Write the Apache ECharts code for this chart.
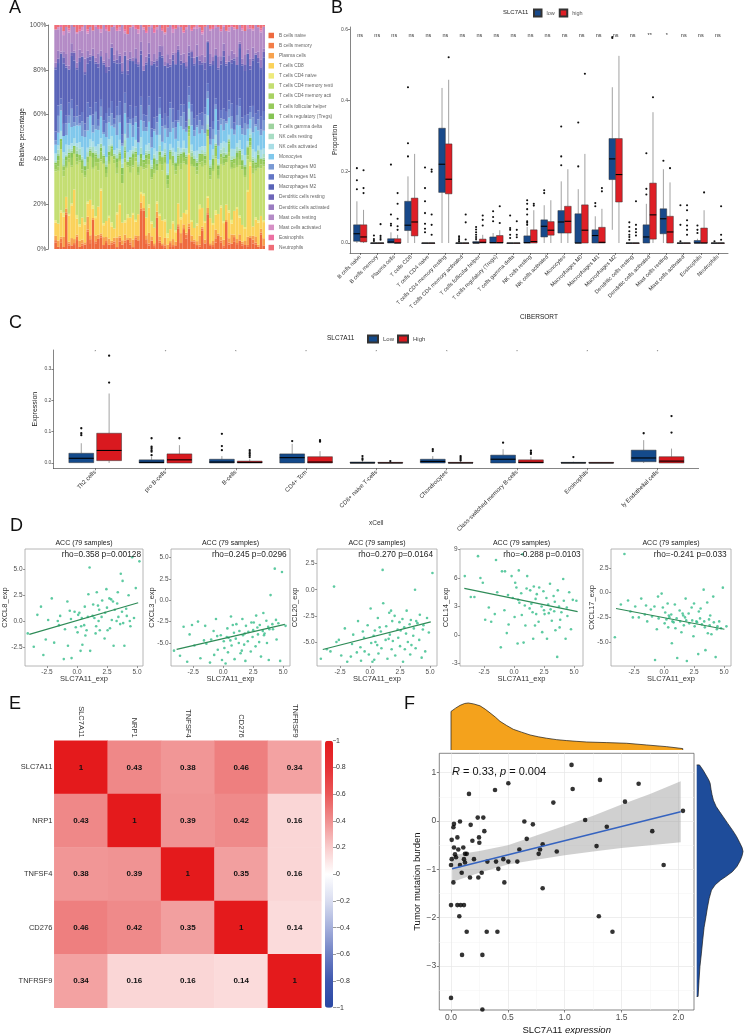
<!DOCTYPE html>
<html><head><meta charset="utf-8">
<script src="https://cdn.jsdelivr.net/npm/echarts@6/dist/echarts.min.js"></script>
<style>html,body{margin:0;padding:0;background:#fff}#c{width:744px;height:1034px}</style>
</head><body><div id="c"></div>
<script>
// ---------------- Panel A: CIBERSORT fractions (79 samples, relative units) ----------------
const aTypes = ['B cells naive','B cells memory','Plasma cells','T cells CD8','T cells CD4 naive','T cells CD4 memory resting','T cells CD4 memory activated','T cells follicular helper','T cells regulatory (Tregs)','T cells gamma delta','NK cells resting','NK cells activated','Monocytes','Macrophages M0','Macrophages M1','Macrophages M2','Dendritic cells resting','Dendritic cells activated','Mast cells resting','Mast cells activated','Eosinophils','Neutrophils'];
const aBn = [3,1,3,1,18,2,2,2,5,1, 2,2,8,3,16,3,5,6,2,3, 2,2,3,1,4,2,3,5,2,1, 5,4,18,16,3,2,4,1,15,3, 2,1,0,1,1,2,10,3,10,5, 12,4,3,2,1,10,3,20,2,1, 3,7,3,1,14,2,3,3,2,4, 2,2,1,6,3,2,1,8,2];
const aBm = [1,0,2,0,1,1,0,1,2,0, 1,0,1,2,0,1,0,1,0,1, 0,1,1,0,2,0,1,0,1,0, 1,0,1,0,2,1,0,1,0,1, 0,1,0,2,1,0,1,0,1,2, 1,0,1,0,1,1,0,1,0,1, 2,0,1,1,0,1,0,2,1,0, 1,0,1,0,2,1,0,1,0];
const aPl = [2,3,1,5,2,1,4,2,1,3, 2,1,6,2,1,3,2,1,4,2, 3,1,2,5,1,2,3,1,2,4, 1,2,3,1,2,6,2,1,3,2, 1,4,2,1,3,2,1,5,2,1, 2,3,1,2,4,1,2,3,1,2, 4,1,2,3,1,2,5,1,2,3, 1,2,4,1,2,3,1,2,4];
const aCD8 = [6,8,12,10,6,14,18,25,9,7, 12,8,6,18,5,9,14,22,6,8, 10,7,5,12,16,8,6,11,9,13, 7,10,4,5,9,14,6,8,4,10, 12,9,3,6,8,5,10,7,6,9, 40,7,6,8,12,10,9,6,13,8, 7,10,14,9,8,12,6,10,15,8, 9,6,22,38,5,8,10,7,9];
const aCD4n = [1,0,1,2,0,1,1,0,2,1, 0,1,1,0,2,1,0,1,1,0, 1,2,0,1,1,0,1,2,0,1, 1,0,1,1,0,2,1,0,1,1, 0,1,2,0,1,1,0,1,0,2, 1,1,0,1,2,0,1,1,0,1, 2,0,1,1,0,1,2,0,1,1, 0,1,1,2,0,1,1,0,1];
const aCD4mr = [22,25,30,18,15,28,20,18,28,30, 24,20,15,22,20,26,18,14,30,22, 25,32,35,20,22,18,28,26,20,24, 30,18,12,10,25,22,20,28,15,24, 26,30,20,35,28,30,18,24,26,22, 10,28,32,25,18,22,30,35,20,26, 24,18,20,30,22,25,28,18,20,24, 30,25,15,8,28,22,24,26,30];
const aCD4ma = [1,2,0,3,1,2,1,0,2,1, 2,1,3,0,1,2,4,1,0,2, 1,0,2,3,1,0,2,1,3,1, 2,1,0,1,2,3,1,2,0,1, 3,1,2,0,1,2,1,3,1,0, 2,1,0,2,1,3,1,0,2,1, 1,2,3,1,0,2,1,2,1,3, 0,1,2,1,3,1,0,2,1];
const aTfh = [2,3,4,2,3,2,4,3,2,3, 4,2,3,2,5,3,2,4,3,2, 3,4,2,3,2,4,3,2,3,4, 2,3,4,2,3,2,4,3,2,3, 4,3,2,3,4,2,3,4,2,3, 2,4,3,2,3,4,2,3,3,2, 4,3,2,3,2,4,3,2,4,3, 2,3,4,2,3,2,4,3,2];
const aTreg = [1,2,1,0,2,1,3,1,2,0, 1,2,0,1,3,1,0,2,1,1, 2,1,0,2,1,3,1,0,1,2, 1,0,2,1,2,1,0,3,1,2, 0,1,2,1,0,2,1,1,3,1, 2,0,1,2,1,0,2,1,1,3, 1,2,0,1,2,1,1,0,2,1, 3,1,0,2,1,1,2,0,1];
const aTgd = [0,1,0,1,0,0,1,0,2,0, 1,0,0,1,0,1,0,2,0,1, 0,0,1,0,1,0,2,0,0,1, 0,1,0,0,1,0,1,0,2,0, 0,1,0,1,0,0,1,0,0,1, 0,2,0,1,0,0,1,0,1,0, 1,0,0,2,0,1,0,0,1,0, 0,1,0,0,1,0,2,0,1];
const aNKr = [1,2,0,3,1,2,1,0,2,3, 1,0,2,1,3,1,2,0,1,2, 3,1,0,2,1,2,3,1,0,1, 2,1,3,0,1,2,1,2,0,3, 1,2,1,0,2,1,3,1,2,0, 4,1,2,1,0,2,1,3,1,2, 0,1,2,3,1,0,2,1,2,1, 3,0,1,2,1,2,0,1,2];
const aNKa = [3,2,4,3,5,2,3,4,2,3, 5,3,2,4,3,2,5,3,4,2, 3,4,2,3,5,2,3,4,3,2, 4,3,5,2,3,4,2,3,4,5, 2,3,4,3,2,5,3,2,4,3, 6,3,2,4,3,2,3,5,2,3, 4,2,3,3,5,2,4,3,2,4, 3,5,2,3,4,3,2,4,3];
const aMono = [4,6,10,8,5,12,9,6,10,8, 6,10,8,12,5,9,7,11,6,10, 8,5,12,7,9,6,10,8,12,5, 9,6,8,10,7,12,6,9,8,10, 5,8,12,6,10,7,9,11,6,8, 4,10,8,12,6,9,7,10,8,5, 12,7,9,6,10,8,11,6,9,7, 8,10,6,5,9,12,7,8,10];
const aM0 = [2,8,3,0,6,4,10,2,5,1, 8,3,6,0,4,9,2,5,1,7, 3,6,2,10,4,1,5,8,2,6, 3,0,7,4,2,9,5,1,6,3, 8,2,4,12,3,6,1,5,9,2, 4,7,3,1,6,2,10,4,3,5, 2,8,3,6,1,4,7,2,5,9, 3,6,2,4,8,1,5,3,6];
const aM1 = [4,5,3,6,4,7,5,3,6,4, 5,3,7,4,6,5,3,4,6,5, 4,6,3,5,7,4,5,3,6,4, 5,7,4,3,6,5,4,6,3,5, 4,6,5,3,7,4,5,6,4,3, 5,4,6,5,3,7,4,5,6,4, 3,5,4,6,5,4,7,3,5,4, 6,4,5,3,6,5,4,7,5];
const aM2 = [28,20,22,30,25,18,24,28,20,26, 30,22,18,24,32,20,26,22,28,20, 18,26,30,22,20,28,18,24,20,30, 22,28,20,18,26,22,30,28,24,20, 32,26,22,18,24,30,28,20,22,26, 18,24,28,30,22,26,20,24,32,28, 20,26,22,28,24,18,22,26,20,24, 28,22,30,20,24,28,22,26,30];
const aDCr = [1,2,0,3,1,0,2,4,1,2, 0,1,3,2,0,1,2,0,1,3, 2,0,1,2,4,1,0,2,1,0, 3,1,2,0,1,2,0,1,3,2, 1,0,2,1,3,0,1,2,0,1, 2,3,1,0,2,1,4,0,1,2, 0,1,2,3,1,0,2,1,0,2, 1,3,0,2,1,0,2,1,3];
const aDCa = [2,4,1,3,6,2,5,1,3,4, 2,6,3,1,4,2,5,3,1,7, 4,2,3,5,1,4,2,6,3,2, 5,1,4,2,3,6,2,4,1,3, 5,2,4,3,1,6,2,3,5,2, 4,1,3,6,2,4,3,1,5,2, 3,6,2,4,1,3,5,2,4,1, 3,5,2,4,6,1,3,4,2];
const aMastR = [15,10,12,8,14,18,10,12,16,9, 12,15,8,14,10,16,12,9,18,11, 13,8,15,10,12,17,9,14,11,16, 10,13,8,15,12,9,16,11,14,10, 8,15,12,17,10,13,9,14,11,16, 12,10,15,8,13,11,16,9,12,14, 10,15,12,9,16,11,13,10,14,8, 15,12,10,16,9,13,11,15,12];
const aMastA = [0,1,0,2,0,1,0,0,1,0, 2,0,1,0,0,1,0,2,0,1, 0,0,1,0,2,0,1,0,0,1, 0,2,0,1,0,0,1,0,1,0, 0,1,0,0,2,0,1,0,0,1, 0,0,1,2,0,1,0,0,1,0, 1,0,0,1,0,2,0,1,0,0, 1,0,2,0,1,0,0,1,0];
const aEos = [0,0,1,0,0,1,0,0,0,1, 0,0,1,0,0,0,1,0,0,1, 0,0,0,1,0,0,1,0,0,0, 1,0,0,0,1,0,0,2,0,0, 1,0,0,0,1,0,0,0,1,0, 0,1,0,0,0,1,0,0,0,1, 0,0,1,0,0,0,1,0,0,0, 1,0,0,1,0,0,0,1,0];
const aNeu = [2,1,0,3,1,2,0,1,4,2, 1,0,2,1,3,0,1,2,0,1, 3,1,0,2,1,0,2,5,1,0, 1,2,0,1,3,1,0,2,1,0, 2,4,1,0,1,2,0,1,3,1, 0,2,1,0,1,3,1,0,2,1, 0,1,2,0,3,1,0,1,2,0, 1,3,0,1,2,0,1,2,1];
const aRows = [aBn,aBm,aPl,aCD8,aCD4n,aCD4mr,aCD4ma,aTfh,aTreg,aTgd,aNKr,aNKa,aMono,aM0,aM1,aM2,aDCr,aDCa,aMastR,aMastA,aEos,aNeu];
const aColors = ['#EE6A3F','#F37D48','#F7A24E','#FBD25A','#EEEA7C','#C4DE72','#A9D263','#97CA5B','#86C454','#9ED39F','#A8DDC4','#A9DEE6','#80C8EC','#7A9AD4','#6477C6','#5A64B8','#6E66B9','#9A7CC1','#B48BC6','#D68FC5','#EC70A2','#EF6D77'];

// ---------------- Panel B: CIBERSORT boxplots [min,q1,median,q3,max] ----------------
const bCats = ['B cells naive','B cells memory','Plasma cells','T cells CD8','T cells CD4 naive','T cells CD4 memory resting','T cells CD4 memory activated','T cells follicular helper','T cells regulatory (Tregs)','T cells gamma delta','NK cells resting','NK cells activated','Monocytes','Macrophages M0','Macrophages M1','Macrophages M2','Dendritic cells resting','Dendritic cells activated','Mast cells resting','Mast cells activated','Eosinophils','Neutrophils'];
const bLow = [[0,0.005,0.026,0.051,0.117],[0,0,0,0,0],[0,0,0.003,0.012,0.03],[0,0.035,0.05,0.117,0.187],[0,0,0,0,0],[0,0.142,0.221,0.322,0.435],[0,0,0,0,0.003],[0,0,0,0.004,0.01],[0,0,0.001,0.017,0.028],[0,0,0,0,0],[0,0,0.001,0.02,0.045],[0,0.017,0.047,0.065,0.106],[0,0.028,0.059,0.091,0.173],[0,0,0,0.082,0.151],[0,0,0.021,0.037,0.075],[0.037,0.178,0.236,0.293,0.437],[0,0,0,0,0],[0,0,0.017,0.051,0.11],[0,0.026,0.068,0.096,0.207],[0,0,0,0,0],[0,0,0,0.007,0.012],[0,0,0,0,0]];
const bHigh = [[0,0.003,0.017,0.051,0.093],[0,0,0,0,0],[0,0,0,0.012,0.023],[0,0.02,0.059,0.126,0.25],[0,0,0,0,0],[0,0.138,0.179,0.278,0.458],[0,0,0,0,0],[0,0,0.002,0.011,0.023],[0,0,0.001,0.021,0.036],[0,0,0,0,0],[0,0,0.004,0.037,0.092],[0,0.022,0.036,0.06,0.12],[0,0.028,0.061,0.103,0.207],[0,0,0.036,0.107,0.25],[0,0,0.002,0.044,0.096],[0,0.115,0.192,0.293,0.525],[0,0,0,0,0],[0,0.011,0.079,0.168,0.367],[0,0,0.031,0.075,0.17],[0,0,0,0,0],[0,0,0,0.042,0.092],[0,0,0,0,0]];
const bLowOut = [[0,0.21],[0,0.176],[0,0.151],[1,0.021],[1,0.011],[1,0.006],[2,0.22],[2,0.08],[2,0.054],[2,0.049],[3,0.437],[3,0.28],[3,0.243],[4,0.212],[4,0.154],[4,0.117],[4,0.084],[4,0.054],[4,0.04],[4,0.03],[6,0.019],[6,0.014],[6,0.009],[6,0.005],[7,0.045],[7,0.038],[7,0.03],[7,0.023],[7,0.017],[7,0.011],[8,0.089],[8,0.073],[8,0.061],[9,0.077],[9,0.042],[9,0.037],[9,0.023],[9,0.014],[10,0.12],[10,0.11],[10,0.095],[10,0.08],[10,0.061],[10,0.051],[10,0.057],[11,0.148],[11,0.14],[12,0.327],[12,0.243],[12,0.218],[13,0.338],[13,0.215],[14,0.112],[14,0.103],[15,0.575],[15,0.578],[16,0.058],[16,0.045],[16,0.033],[16,0.023],[16,0.017],[16,0.009],[17,0.252],[17,0.152],[17,0.136],[18,0.231],[19,0.106],[19,0.051],[19,0.005],[20,0.049],[20,0.037],[20,0.028],[21,0.005]];
const bHighOut = [[0,0.204],[0,0.154],[0,0.14],[1,0.053],[1,0.02],[1,0.014],[1,0.009],[2,0.14],[2,0.11],[2,0.068],[2,0.047],[2,0.037],[4,0.206],[4,0.2],[4,0.08],[4,0.051],[4,0.023],[5,0.521],[6,0.08],[6,0.058],[6,0.01],[7,0.077],[7,0.065],[7,0.049],[8,0.103],[8,0.056],[9,0.061],[9,0.037],[9,0.023],[9,0.016],[10,0.11],[10,0.105],[13,0.475],[14,0.154],[14,0.145],[16,0.117],[16,0.051],[16,0.039],[16,0.03],[16,0.021],[17,0.409],[18,0.21],[19,0.106],[19,0.092],[19,0.064],[19,0.049],[19,0.037],[19,0.023],[20,0.142],[21,0.103],[21,0.023],[21,0.009]];
const bSig = ['ns','ns','ns','ns','ns','ns','ns','ns','ns','ns','ns','ns','ns','ns','ns','ns','ns','**','*','ns','ns','ns'];
const bTicks = [0,0.2,0.4,0.6];

// ---------------- Panel C: xCell boxplots ----------------
const cCats = ['Th2 cells','pro B-cells','B-cells','CD4+ Tcm','CD8+ naive T-cells','Chondrocytes','Class-switched memory B-cells','Eosinophils','ly Endothelial cells'];
const cLow = [[0,0.001,0.015,0.031,0.063],[0,0,0.002,0.01,0.02],[0,0,0.003,0.012,0.022],[0,0,0.017,0.029,0.061],[0,0,0,0.003,0.006],[0,0,0.005,0.012,0.022],[0,0,0.012,0.025,0.044],[0,0,0,0.002,0.004],[0,0.004,0.016,0.041,0.073]];
const cHigh = [[0,0.0075,0.04,0.095,0.222],[0,0,0.01,0.029,0.057],[0,0,0.002,0.006,0.012],[0,0,0.003,0.02,0.038],[0,0,0,0.002,0.004],[0,0,0,0.002,0.004],[0,0,0.002,0.01,0.02],[0,0,0,0.002,0.003],[0,0,0.006,0.02,0.046]];
const cLowOut = [[0,0.111],[0,0.095],[0,0.089],[1,0.079],[1,0.052],[1,0.047],[1,0.041],[1,0.036],[1,0.025],[2,0.093],[2,0.054],[2,0.041],[3,0.07],[4,0.022],[4,0.015],[4,0.01],[5,0.044],[5,0.038],[6,0.065],[7,0.019],[8,0.095]];
const cHighOut = [[0,0.257],[0,0.343],[1,0.079],[2,0.041],[2,0.035],[2,0.03],[2,0.025],[2,0.019],[3,0.073],[3,0.068],[4,0.006],[5,0.022],[5,0.018],[5,0.013],[5,0.008],[6,0.039],[6,0.033],[6,0.029],[8,0.097],[8,0.15]];
const cSig = ['*','*','*','*','*','*','*','*','*'];
const cTicks = [0,0.1,0.2,0.3];

// ---------------- Panel D: ACC correlations ----------------
const dX = [-4.1,-3.3,-3.0,-2.6,-2.4,-2.1,-1.9,-1.5,-1.4,-1.1, -1.0,-0.8,-0.75,-0.5,-0.45,-0.2,-0.1,0.05,0.1,0.3, 0.35,0.4,0.6,0.65,0.7,0.9,0.95,1.05,1.1,1.3, 1.35,1.45,1.6,1.65,1.8,1.85,1.9,2.05,2.1,2.3, 2.35,2.45,2.5,2.7,2.75,2.85,3.0,3.05,3.15,3.3, 3.35,3.4,3.6,3.65,3.75,3.8,3.95,4.1,4.15,4.3, 4.45,4.6,4.75,4.9,5.2,-2.8,-0.6,0.45,1.55,2.55, 3.45,-1.6,0.8,1.75,2.9,3.85,-3.6,0.2,4.4];
const dCXCL8 = [-1.2,0.6,1.4,-1.8,0.1,2.2,-2.1,-0.4,0.5,-3.7, -0.8,1.9,-2.4,0.2,-3.6,0.9,-0.6,-1.1,0.6,-2.9, -0.5,0.3,-0.4,1.4,-1.4,0.4,2.6,5.2,-2.9,0.5, 1.6,0.3,-0.5,2.8,0.0,1.1,-0.9,0.4,2.0,-1.7, 0.8,3.1,1.3,2.2,-0.7,2.1,1.9,-2.4,1.1,0.0, 1.7,2.8,-0.3,4.6,0.9,3.9,-2.4,1.2,0.5,2.5, -0.5,6.2,0.3,3.2,5.8,-3.3,1.0,-2.3,-1.2,-0.9, 0.4,0.0,-0.9,1.5,0.1,-0.2,-2.5,0.8,0.0];
const dCXCL3 = [-5.9,-3.1,-7.2,-2.9,-5.3,-2.5,-6.8,-3.0,-5.1,-7.3, -4.6,-3.6,-6.4,-4.2,-5.8,-4.1,-7.0,-4.8,-5.6,-4.3, -3.3,-6.1,-4.7,-1.9,-5.3,-3.8,-6.9,-4.5,-2.8,-5.0, -3.6,-6.2,-2.2,-4.1,-3.9,-7.1,-3.0,-4.8,-3.7,-6.0, -2.6,-4.3,-3.5,-5.4,-1.8,-3.2,-4.9,-2.9,-6.6,-3.6, -1.5,-4.1,-2.4,-5.0,-3.1,-7.0,0.6,-2.8,-3.4,3.7, -4.6,-2.7,-7.1,3.3,-3.0,-4.0,-2.2,-4.4,-5.9,-2.6, -3.9,-4.7,-2.9,-5.2,-4.0,-3.4,-6.5,-7.4,-2.3];
const dCCL20 = [-6.6,-5.9,0.3,-4.8,-6.3,-3.7,-6.9,-5.2,-4.3,-6.0, -3.0,-5.5,-6.8,-4.6,-5.9,-3.4,-6.2,-1.8,-5.1,-4.4, -6.7,-3.9,-5.3,-2.7,-6.1,-4.0,-5.6,1.9,-1.3,-4.8, -3.5,-6.6,-2.2,-4.3,-5.7,-3.0,-4.9,-2.5,-6.3,-3.8, -4.6,-3.1,-5.4,-2.8,-6.9,-3.6,-4.2,-2.0,-5.0,-3.3, -6.2,-2.9,-4.4,-3.7,0.0,-5.6,-3.2,-4.8,-2.4,-6.5, -3.4,-5.9,-2.7,-4.1,1.6,-5.0,-4.0,-5.0,-4.7,-3.9, -5.3,-6.4,-3.6,-2.0,-5.7,-3.0,-5.7,-6.9,-3.8];
const dCCL14 = [6.2,4.0,8.3,5.5,1.6,2.9,1.4,7.9,4.5,-1.3, 6.7,2.6,6.7,4.2,1.1,6.2,3.9,1.9,5.5,-0.9, 3.7,6.8,4.4,2.1,8.5,3.1,1.0,4.9,6.2,2.8, 4.7,3.3,-0.4,5.1,3.8,2.2,4.3,1.4,5.0,3.0, 0.3,4.6,2.6,3.9,-0.4,3.2,5.4,2.7,1.5,4.1, 2.5,3.5,-2.3,4.7,3.0,0.8,2.4,5.9,3.6,-0.4, 2.0,4.5,0.6,3.7,3.6,6.0,0.2,3.4,2.4,2.2, 0.5,2.2,-0.8,1.0,2.3,1.6,4.0,5.0,2.9];
const dCXCL17 = [-4.5,3.9,-0.8,-2.5,-1.4,-2.5,-0.6,-1.3,-2.9,-1.7, -2.4,-1.4,-6.8,-0.4,-2.6,-0.1,-1.5,-3.1,-2.0,-1.1, -3.5,-2.3,-2.2,-5.1,-2.9,-1.2,-3.6,-2.6,-6.6,-1.8, -2.9,-4.0,-2.3,-3.3,-0.6,-2.8,-6.9,-2.1,-3.1,-1.5, -2.8,-4.4,-1.1,-2.9,-3.0,-6.2,-2.6,-1.6,-3.2,0.3, -2.9,-3.5,-1.0,-4.1,-2.7,-3.3,-4.2,-0.4,-3.0,-6.5, -3.4,-2.9,-3.6,0.5,-3.4,-1.9,-3.7,-2.5,-2.1,-3.4, -5.8,-2.2,-3.0,-2.5,-1.9,-2.3,-1.2,-2.7,-3.7];
const dGenes = ['CXCL8_exp','CXCL3_exp','CCL20_exp','CCL14_exp','CXCL17_exp'];
const dRho = ['rho=0.358 p=0.00128','rho=0.245 p=0.0296','rho=0.270 p=0.0164','rho=-0.288 p=0.0103','rho=-0.241 p=0.033'];
const dFitLines = [[[-3.97,-1.3],[5.1,1.78]],[[-3.88,-5.76],[5.14,-2.82]],[[-3.94,-5.72],[5.06,-3.08]],[[-4.14,4.91],[5.3,2.46]],[[-4.0,-1.6],[5.03,-3.69]]];
const dXTicks = [-2.5,0,2.5,5];
const dYTicks = [[-2.5,0,2.5,5],[-5,-2.5,0,2.5,5],[-5,-2.5,0,2.5],[-3,0,3,6,9],[-5,-2.5,0,2.5]];

// ---------------- Panel E: correlation matrix ----------------
const eNames = ['SLC7A11','NRP1','TNFSF4','CD276','TNFRSF9'];
const eSLC7A11 = [1,0.43,0.38,0.46,0.34];
const eNRP1 = [0.43,1,0.39,0.42,0.16];
const eTNFSF4 = [0.38,0.39,1,0.35,0.16];
const eCD276 = [0.46,0.42,0.35,1,0.14];
const eTNFRSF9 = [0.34,0.16,0.16,0.14,1];

// ---------------- Panel F: TMB vs SLC7A11 ----------------
const fX = [1.06,1.31,1.65,0.387,0.504,1.07,0.158,1.53,0.90,2.04,1.18,0.645,0.72,1.37,1.77,0.079,0.021,0.026,0.173,0.235,0.284,0.293,0.006,0.056,0.246,0.249,0.188,0.026,0.064,0.108,0.806,0.783,0.771,0.666,0.601,1.28,0.93,0.035,0.138,0.123,0.044,0.006,0.202,0.32,0.396,0.46,0.504,0.583,0.0,0.079,0.123,0.114,0.094,0.27,0.416,0.021,0.167,0.24,0.469,0.806,1.87,0.0,0.056,0.085,0.114,0.073,1.30,0.138,0.314,0.408,1.42,0.097,0.276,0.0,0.276];
const fY = [1.16,0.85,0.77,0.64,0.78,0.66,0.56,0.40,0.38,0.21,0.02,-0.01,-0.07,-0.12,-0.21,-0.01,-0.13,-0.06,-0.08,0.07,0.07,-0.21,-0.39,-0.34,-0.34,-0.45,-0.41,-0.55,-0.59,-0.55,-0.48,-0.59,-0.68,-0.37,-0.59,-0.52,-0.63,-0.69,-0.68,-0.68,-0.75,-0.79,-0.79,-0.84,-0.84,-0.79,-0.84,-0.84,-0.91,-0.91,-0.86,-0.79,-1.07,-1.07,-0.99,-1.27,-1.17,-1.17,-1.27,-1.39,-0.91,-1.74,-1.74,-1.74,-1.74,-1.97,-1.97,-2.29,-2.29,-2.29,-2.29,-2.77,-2.77,-3.66,-3.90];
const fFit = [[0.01,-0.99],[2.02,0.19]];
const fCiX = [0.01,0.25,0.5,0.75,1.0,1.25,1.5,1.75,2.02];
const fCiLo = [-1.26,-1.07,-0.90,-0.80,-0.71,-0.63,-0.56,-0.50,-0.44];
const fCiHi = [-0.71,-0.62,-0.50,-0.30,-0.10,0.11,0.34,0.56,0.82];
const dTopX = [0,0.04,0.08,0.12,0.152,0.2,0.255,0.3,0.343,0.39,0.431,0.49,0.548,0.62,0.695,0.77,0.842,0.93,1.018,1.1,1.194,1.37,1.545,1.721,1.897,2.038];
const dTopY = [0.82,0.89,0.95,0.99,1.0,0.98,0.94,0.87,0.79,0.7,0.61,0.52,0.44,0.38,0.32,0.28,0.25,0.22,0.2,0.185,0.17,0.157,0.143,0.107,0.071,0.03];
const dRY = [1.16,1.05,0.95,0.85,0.78,0.65,0.55,0.43,0.3,0.2,0.09,-0.05,-0.2,-0.32,-0.45,-0.55,-0.63,-0.72,-0.82,-0.94,-1.05,-1.15,-1.22,-1.32,-1.43,-1.6,-1.8,-1.98,-2.2,-2.46,-2.75,-3.01,-3.3,-3.63];
const dRW = [0.06,0.14,0.2,0.26,0.29,0.31,0.33,0.36,0.42,0.49,0.57,0.67,0.78,0.86,0.93,0.98,1.0,0.98,0.94,0.87,0.77,0.63,0.52,0.4,0.32,0.27,0.23,0.2,0.16,0.13,0.1,0.07,0.05,0.03];
const fXTicks = [0,0.5,1,1.5,2];
const fYTicks = [-3,-2,-1,0,1];

// ====================================================================
const FONT = 'Liberation Sans';
const chart = echarts.init(document.getElementById('c'), null, {renderer:'canvas', width:744, height:1034});
const grids = [], xAxes = [], yAxes = [], series = [], titles = [], legends = [];
function addGrid(g){ g.outerBoundsMode = 'none'; g.containLabel = false; grids.push(g); return grids.length - 1; }
function addX(a){ if (!a.position) a.position = 'bottom'; xAxes.push(a); return xAxes.length - 1; }
function addY(a){ if (!a.position) a.position = 'left'; yAxes.push(a); return yAxes.length - 1; }
const LC = '#333';
const hidden = {show:false};
function txt(text, left, top, size, opts){
  titles.push(Object.assign({text:text, left:left, top:top, padding:0, itemGap:0,
    textStyle:{fontSize:size, fontWeight:'normal', color:'#111', fontFamily:FONT}}, opts||{}));
}
const minus = s => String(s).replace('-', '\u2212');

// ---------- Panel A ----------
{
  const g = addGrid({left:54.3, top:25, width:210.7, height:224});
  const xi = addX({gridIndex:g, type:'category', data:aBn.map((v,i)=>'S'+(i+1)), show:false});
  const yi = addY({gridIndex:g, type:'value', min:0, max:100, interval:20, offset:6,
    axisLine:{show:true, onZero:false, lineStyle:{color:LC, width:0.6}},
    axisTick:{show:true, length:2.5, lineStyle:{color:LC, width:0.6}},
    axisLabel:{formatter:'{value}%', fontSize:6.5, color:'#4D4D4D', margin:2, fontFamily:FONT},
    splitLine:hidden, name:'Relative percentage', nameLocation:'middle', nameGap:23, nameMoveOverlap:false,
    nameTextStyle:{fontSize:6.5, color:'#222', fontFamily:FONT}});
  const totals = aBn.map((v, j) => aRows.reduce((s, r) => s + r[j], 0));
  aRows.forEach((row, k) => {
    series.push({type:'bar', name:aTypes[k], stack:'a', xAxisIndex:xi, yAxisIndex:yi,
      barCategoryGap:'0%', data:row.map((v, j) => v / totals[j] * 100),
      itemStyle:{color:aColors[k]}, emphasis:{disabled:true}, silent:true});
  });
  legends.push({data:aTypes, orient:'vertical', left:268.5, top:32.5, padding:0, icon:'rect',
    itemWidth:5.5, itemHeight:5.5, itemGap:4.1, itemTextGap:3, selectedMode:false,
    textStyle:{fontSize:4.8, lineHeight:6, color:'#666', fontFamily:FONT, width:56, overflow:'truncate', ellipsis:''}});
  txt('A', 9, -0.5, 18);
}

// ---------- box plot helpers ----------
function boxRender(off, wf, fill){
  return function(params, api){
    const i = api.value(0);
    const band = api.size([1, 0])[0];
    const xc = api.coord([i, 0])[0] + off * band;
    const w = wf * band;
    const y = k => api.coord([i, api.value(k)])[1];
    const yMin = y(1), yQ1 = y(2), yMed = y(3), yQ3 = y(4), yMax = y(5);
    const ws = {stroke:'#444', lineWidth:0.5};
    return {type:'group', children:[
      {type:'line', shape:{x1:xc, y1:yMax, x2:xc, y2:yQ3}, style:ws},
      {type:'line', shape:{x1:xc, y1:yQ1, x2:xc, y2:yMin}, style:ws},
      {type:'rect', shape:{x:xc - w/2, y:yQ3, width:w, height:Math.max(yQ1 - yQ3, 0.4)}, style:{fill:fill, stroke:'#333', lineWidth:0.5}},
      {type:'line', shape:{x1:xc - w/2, y1:yMed, x2:xc + w/2, y2:yMed}, style:{stroke:'#000', lineWidth:1.1}}
    ]};
  };
}
function outRender(off, r){
  return function(params, api){
    const band = api.size([1, 0])[0];
    const p = api.coord([api.value(0), api.value(1)]);
    return {type:'circle', shape:{cx:p[0] + off * band, cy:p[1], r:r}, style:{fill:'#111'}};
  };
}
function sigRender(labels, fs){
  return function(params, api){
    const p = api.coord([api.value(0), api.value(1)]);
    return {type:'text', x:p[0], y:p[1], style:{text:labels[params.dataIndex], fontSize:fs, fontFamily:FONT, fill:'#333', align:'center', verticalAlign:'middle'}};
  };
}
function boxPanel(cfg){
  const gf = addGrid(cfg.frame);
  addX({gridIndex:gf, type:'value', min:0, max:1,
    axisLine:{show:true, onZero:false, lineStyle:{color:LC, width:0.6}}, axisTick:hidden, axisLabel:hidden, splitLine:hidden,
    name:cfg.xName || '', nameLocation:'middle', nameGap:cfg.xNameGap || 0, nameMoveOverlap:false,
    nameTextStyle:{fontSize:6.5, color:'#222', fontFamily:FONT}});
  addY({gridIndex:gf, type:'value', min:cfg.ymin, max:cfg.ymax,
    axisLine:{show:true, onZero:false, lineStyle:{color:LC, width:0.6}},
    axisTick:{show:true, length:2, customValues:cfg.yTicks, lineStyle:{color:LC, width:0.6}},
    axisLabel:{customValues:cfg.yTicks, formatter:v => Number(v).toFixed(1), fontSize:5, color:'#4D4D4D', margin:2, fontFamily:FONT},
    splitLine:hidden, name:cfg.yName, nameLocation:'middle', nameGap:cfg.yNameGap, nameMoveOverlap:false,
    nameTextStyle:{fontSize:cfg.yNameSize, color:'#222', fontFamily:FONT}});
  const g = addGrid(cfg.data);
  const xi = addX({gridIndex:g, type:'category', data:cfg.cats, boundaryGap:true,
    axisLine:{show:false, onZero:false}, axisTick:{show:true, alignWithLabel:true, length:2, lineStyle:{color:LC, width:0.6}},
    axisLabel:{interval:0, rotate:45, fontSize:cfg.labelSize, color:'#333', margin:3, fontFamily:FONT}, splitLine:hidden});
  const yi = addY({gridIndex:g, type:'value', min:cfg.ymin, max:cfg.ymax, show:false});
  const common = {type:'custom', xAxisIndex:xi, yAxisIndex:yi, silent:true};
  series.push(Object.assign({}, common, {name:cfg.names[0], data:cfg.low.map((s,i)=>[i].concat(s)), encode:{x:0, y:[1,2,3,4,5]},
    renderItem:boxRender(-cfg.off, cfg.wf, cfg.colors[0]), itemStyle:{color:cfg.colors[0], borderColor:'#333', borderWidth:0.5}}));
  series.push(Object.assign({}, common, {name:cfg.names[1], data:cfg.high.map((s,i)=>[i].concat(s)), encode:{x:0, y:[1,2,3,4,5]},
    renderItem:boxRender(cfg.off, cfg.wf, cfg.colors[1]), itemStyle:{color:cfg.colors[1], borderColor:'#333', borderWidth:0.5}}));
  series.push(Object.assign({}, common, {name:cfg.names[0] + ' outliers', data:cfg.lowOut, encode:{x:0, y:1}, renderItem:outRender(-cfg.off, cfg.r)}));
  series.push(Object.assign({}, common, {name:cfg.names[1] + ' outliers', data:cfg.highOut, encode:{x:0, y:1}, renderItem:outRender(cfg.off, cfg.r)}));
  series.push(Object.assign({}, common, {name:'sig', data:cfg.sig.map((s,i)=>[i, cfg.sigY]), encode:{x:0, y:1}, renderItem:sigRender(cfg.sig, cfg.sigSize)}));
}

// ---------- Panel B ----------
boxPanel({frame:{left:350, top:27, width:378, height:226}, data:{left:351.7, top:27, width:374.6, height:226},
  cats:bCats, ymin:-0.028, ymax:0.606, yTicks:bTicks, yName:'Proportion', yNameGap:11.5, yNameSize:6.5,
  xName:'CIBERSORT', xNameGap:61, labelSize:5.5, names:['low','high'], colors:['#18498A','#DE1F26'],
  low:bLow, high:bHigh, lowOut:bLowOut, highOut:bHighOut, off:0.195, wf:0.39, r:1.05,
  sig:bSig, sigY:0.582, sigSize:5.5});
legends.push({data:['low','high'], left:533, top:8.5, padding:0, icon:'rect', itemWidth:7.5, itemHeight:7,
  itemGap:4, itemTextGap:2, selectedMode:false, textStyle:{fontSize:5.5, color:'#555', fontFamily:FONT}});
txt('SLC7A11', 503, 9, 6, {textStyle:{fontSize:6, color:'#222', fontFamily:FONT, fontWeight:'normal'}});
txt('B', 331, -0.5, 18);

// ---------- Panel C ----------
boxPanel({frame:{left:53.4, top:350, width:645.2, height:118.3}, data:{left:60.05, top:350, width:632.7, height:118.3},
  cats:cCats, ymin:-0.017, ymax:0.361, yTicks:cTicks, yName:'Expression', yNameGap:15, yNameSize:7,
  labelSize:6, names:['Low','High'], colors:['#144A8B','#D9191F'],
  low:cLow, high:cHigh, lowOut:cLowOut, highOut:cHighOut, off:0.198, wf:0.353, r:1.15,
  sig:cSig, sigY:0.354, sigSize:4});
legends.push({data:['Low','High'], left:367, top:334.5, padding:0, icon:'rect', itemWidth:10, itemHeight:7,
  itemGap:3, itemTextGap:2, selectedMode:false, textStyle:{fontSize:6, color:'#444', fontFamily:FONT}});
txt('SLC7A11', 327, 334.5, 6.5, {textStyle:{fontSize:6.5, color:'#222', fontFamily:FONT, fontWeight:'normal'}});
txt('C', 9, 314.5, 18);

// ---------- Panel D ----------
{
  const boxes = [
    {left:25, width:118, xr:[-4.33,5.5], yr:[-4.37,7.0], ng:16.2, tr:141},
    {left:171, width:119, xr:[-4.35,5.57], yr:[-7.7,6.0], ng:15.2, tr:286.7},
    {left:317, width:120, xr:[-4.42,5.58], yr:[-7.3,3.9], ng:17.7, tr:433},
    {left:460, width:123, xr:[-4.5,5.75], yr:[-3.26,9.05], ng:10.2, tr:580.7},
    {left:611, width:120, xr:[-4.42,5.58], yr:[-7.4,4.4], ng:15.2, tr:726.7}
  ];
  const ys = [dCXCL8, dCXCL3, dCCL20, dCCL14, dCXCL17];
  boxes.forEach((b, k) => {
    const g = addGrid({left:b.left, top:549, width:b.width, height:117, show:true, borderColor:'#A3A3A3', borderWidth:0.8, backgroundColor:'transparent'});
    const xi = addX({gridIndex:g, type:'value', min:b.xr[0], max:b.xr[1],
      axisLine:{show:false, onZero:false}, axisTick:{show:true, length:2, customValues:dXTicks, lineStyle:{color:'#555', width:0.6}},
      axisLabel:{customValues:dXTicks, formatter:v => Number(v).toFixed(1), fontSize:6.5, color:'#4D4D4D', margin:2.5, fontFamily:FONT},
      splitLine:hidden, name:'SLC7A11_exp', nameLocation:'middle', nameGap:9, nameMoveOverlap:false,
      nameTextStyle:{fontSize:7.5, color:'#333', fontFamily:FONT}});
    const yi = addY({gridIndex:g, type:'value', min:b.yr[0], max:b.yr[1],
      axisLine:{show:false, onZero:false}, axisTick:{show:true, length:2, customValues:dYTicks[k], lineStyle:{color:'#555', width:0.6}},
      axisLabel:{customValues:dYTicks[k], formatter:v => k === 3 ? String(v) : Number(v).toFixed(1), fontSize:6.5, color:'#4D4D4D', margin:2.5, fontFamily:FONT},
      splitLine:hidden, name:dGenes[k], nameLocation:'middle', nameGap:b.ng, nameMoveOverlap:false,
      nameTextStyle:{fontSize:7.5, color:'#333', fontFamily:FONT}});
    series.push({type:'scatter', xAxisIndex:xi, yAxisIndex:yi, symbolSize:2.6, silent:true,
      data:dX.map((x, i) => [x, ys[k][i]]), itemStyle:{color:'#35BD8A'}});
    series.push({type:'line', xAxisIndex:xi, yAxisIndex:yi, data:dFitLines[k], symbol:'none', silent:true,
      lineStyle:{color:'#2E8B57', width:1.2}});
    txt('ACC (79 samples)', b.left + b.width / 2, 539.5, 7, {textAlign:'center', textStyle:{fontSize:7, color:'#222', fontFamily:FONT, fontWeight:'normal'}});
    txt(dRho[k], b.tr, 550.5, 8.3, {textAlign:'right', textStyle:{fontSize:8.3, color:'#222', fontFamily:FONT, fontWeight:'normal'}});
  });
  txt('xCell', 369, 519.5, 6.5, {textStyle:{fontSize:6.5, color:'#333', fontFamily:FONT, fontWeight:'normal'}});
  txt('D', 10, 517, 18);
}

// ---------- Panel E ----------
let heatIndex;
{
  const g = addGrid({left:54.3, top:740.7, width:267, height:267});
  const xi = addX({gridIndex:g, type:'category', data:eNames, position:'top',
    axisLine:{show:false, onZero:false}, axisTick:hidden, splitLine:hidden,
    axisLabel:{interval:0, rotate:90, fontSize:7.5, color:'#333', margin:3, fontFamily:FONT}});
  const yi = addY({gridIndex:g, type:'category', data:eNames, inverse:true,
    axisLine:{show:false, onZero:false}, axisTick:hidden, splitLine:hidden,
    axisLabel:{interval:0, fontSize:7.5, color:'#333', margin:2, fontFamily:FONT}});
  const rows = [eSLC7A11, eNRP1, eTNFSF4, eCD276, eTNFRSF9];
  const data = [];
  rows.forEach((r, yi2) => r.forEach((v, xi2) => data.push([xi2, yi2, v])));
  heatIndex = series.length;
  series.push({type:'heatmap', xAxisIndex:xi, yAxisIndex:yi, data:data, silent:true,
    label:{show:true, formatter:p => String(p.value[2]), fontSize:8, fontWeight:'bold', color:'#111', fontFamily:FONT},
    itemStyle:{borderWidth:0}, emphasis:{disabled:true}});
  const gc = addGrid({left:325, top:740.7, width:8, height:267});
  addX({gridIndex:gc, type:'value', min:0, max:1, show:false});
  addY({gridIndex:gc, type:'value', min:-1, max:1, interval:0.2, position:'right',
    axisLine:{show:false, onZero:false}, axisTick:{show:true, length:3, lineStyle:{color:'#555', width:0.6}},
    axisLabel:{formatter:v => minus(Math.round(v * 10) / 10), fontSize:7, color:'#333', margin:3, fontFamily:FONT},
    splitLine:hidden});
  txt('E', 9, 695.5, 18);
}

// ---------- Panel F ----------
{
  const xr = [-0.103, 2.137], yr = [-3.91, 1.40];
  const g = addGrid({left:439.3, top:753.3, width:254.7, height:256.7, show:true, borderColor:'#555', borderWidth:0.7, backgroundColor:'transparent'});
  const xi = addX({gridIndex:g, type:'value', min:xr[0], max:xr[1], position:'bottom',
    axisLine:{show:false, onZero:false}, axisTick:{show:true, length:2.5, customValues:fXTicks, lineStyle:{color:'#333', width:0.6}},
    axisLabel:{customValues:fXTicks, formatter:v => Number(v).toFixed(1), fontSize:8.5, color:'#4D4D4D', margin:3, fontFamily:FONT},
    splitLine:{show:true, lineStyle:{color:'#E6E6E6', width:0.7}},
    name:'SLC7A11 {i|expression}', nameLocation:'middle', nameGap:15, nameMoveOverlap:false,
    nameTextStyle:{fontSize:9.5, color:'#111', fontFamily:FONT, rich:{i:{fontSize:9.5, fontStyle:'italic', color:'#111', fontFamily:FONT}}}});
  const yi = addY({gridIndex:g, type:'value', min:yr[0], max:yr[1], position:'left',
    axisLine:{show:false, onZero:false}, axisTick:{show:true, length:2.5, customValues:fYTicks, lineStyle:{color:'#333', width:0.6}},
    axisLabel:{customValues:fYTicks, formatter:v => minus(v), fontSize:8.5, color:'#4D4D4D', margin:3, fontFamily:FONT},
    splitLine:{show:true, lineStyle:{color:'#E6E6E6', width:0.7}},
    name:'Tumor mutation burden', nameLocation:'middle', nameGap:16.5, nameMoveOverlap:false,
    nameTextStyle:{fontSize:9.5, color:'#111', fontFamily:FONT}});
  addX({gridIndex:g, type:'value', min:xr[0], max:xr[1], position:'top', axisLine:{show:false, onZero:false}, axisLabel:hidden,
    axisTick:{show:false, customValues:[0.25,0.75,1.25,1.75]}, splitLine:{show:true, lineStyle:{color:'#F2F2F2', width:0.5}}});
  addY({gridIndex:g, type:'value', min:yr[0], max:yr[1], position:'right', axisLine:{show:false, onZero:false}, axisLabel:hidden,
    axisTick:{show:false, customValues:[-3.5,-2.5,-1.5,-0.5,0.5]}, splitLine:{show:true, lineStyle:{color:'#F2F2F2', width:0.5}}});
  series.push({type:'custom', xAxisIndex:xi, yAxisIndex:yi, silent:true, data:[[fCiX[0], fCiLo[0]]], encode:{x:0, y:1},
    renderItem:(params, api) => {
      const up = fCiX.map((x, i) => api.coord([x, fCiHi[i]]));
      const lo = fCiX.map((x, i) => api.coord([x, fCiLo[i]])).reverse();
      return {type:'polygon', shape:{points:up.concat(lo)}, style:{fill:'rgba(150,150,150,0.45)'}};
    }});
  series.push({type:'line', xAxisIndex:xi, yAxisIndex:yi, data:fFit, symbol:'none', silent:true, lineStyle:{color:'#3563C0', width:1.6}});
  series.push({type:'scatter', xAxisIndex:xi, yAxisIndex:yi, data:fX.map((x, i) => [x, fY[i]]), symbolSize:4.6, silent:true, itemStyle:{color:'#000'}});
  // top density
  const gt = addGrid({left:439.3, top:703, width:254.7, height:47});
  const xt = addX({gridIndex:gt, type:'value', min:xr[0], max:xr[1], show:false});
  const yt = addY({gridIndex:gt, type:'value', min:0, max:1, show:false});
  series.push({type:'custom', xAxisIndex:xt, yAxisIndex:yt, silent:true, data:[[0, 0]], encode:{x:0, y:1},
    renderItem:(params, api) => {
      const curve = dTopX.map((x, i) => api.coord([x, dTopY[i]]));
      const b0 = api.coord([dTopX[0], 0]), b1 = api.coord([dTopX[dTopX.length - 1], 0]);
      return {type:'group', children:[
        {type:'polygon', shape:{points:[b0].concat(curve, [b1])}, style:{fill:'#F4A21C'}},
        {type:'polyline', shape:{points:[b0].concat(curve, [b1])}, style:{stroke:'#1a1a1a', lineWidth:0.7, fill:null}}
      ]};
    }});
  // right density
  const gr = addGrid({left:696.7, top:753.3, width:46.3, height:256.7});
  const xr2 = addX({gridIndex:gr, type:'value', min:0, max:1, show:false});
  const yr2 = addY({gridIndex:gr, type:'value', min:yr[0], max:yr[1], show:false});
  series.push({type:'custom', xAxisIndex:xr2, yAxisIndex:yr2, silent:true, data:[[0, 0]], encode:{x:0, y:1},
    renderItem:(params, api) => {
      const curve = dRY.map((y, i) => api.coord([dRW[i], y]));
      const b0 = api.coord([0, dRY[0]]), b1 = api.coord([0, dRY[dRY.length - 1]]);
      return {type:'group', children:[
        {type:'polygon', shape:{points:[b0].concat(curve, [b1])}, style:{fill:'#1E4C9A'}},
        {type:'polyline', shape:{points:[b0].concat(curve, [b1])}, style:{stroke:'#1a1a1a', lineWidth:0.7, fill:null}}
      ]};
    }});
  txt('{i|R} = 0.33, {i|p} = 0.004', 452, 766.5, 11, {textStyle:{fontSize:11, color:'#111', fontFamily:FONT, fontWeight:'normal',
    rich:{i:{fontSize:11, fontStyle:'italic', color:'#111', fontFamily:FONT}}}});
  txt('F', 404, 695.5, 18);
}

chart.setOption({
  animation:false,
  backgroundColor:'#ffffff',
  textStyle:{fontFamily:FONT},
  title:titles, legend:legends, grid:grids, xAxis:xAxes, yAxis:yAxes, series:series,
  visualMap:{type:'continuous', min:-1, max:1, seriesIndex:heatIndex, dimension:2, calculable:false, hoverLink:false,
    orient:'vertical', left:325, top:740.7, itemWidth:8, itemHeight:267, padding:0, text:null, showLabel:false,
    inRange:{color:['#2A48A4','#3F58AF','#6E80C4','#A5B0DC','#D9DDF0','#FFFFFF','#F9CCCC','#F09090','#EA5858','#E63034','#E41A1C']}}
});
</script></body></html>
